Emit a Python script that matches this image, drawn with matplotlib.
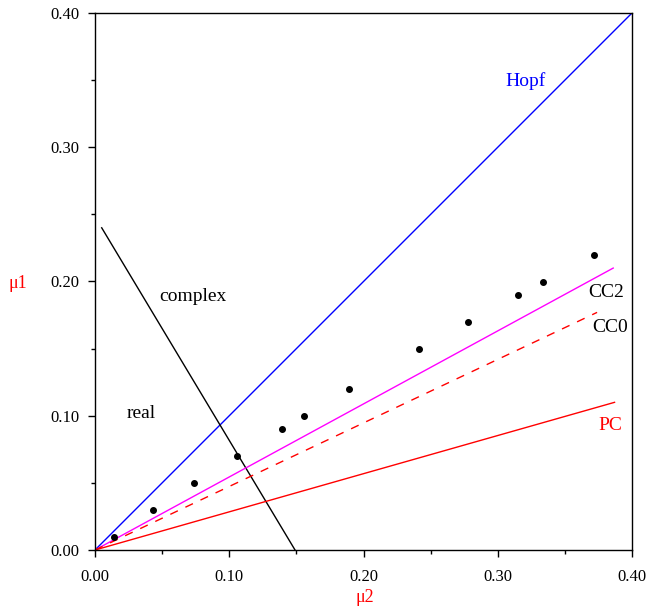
import matplotlib
matplotlib.use("Agg")
import matplotlib.pyplot as plt
from matplotlib.ticker import MultipleLocator, FormatStrFormatter

# Data
hopf_x = [0.0, 0.40]
hopf_y = [0.0, 0.40]
disc_x = [0.005, 0.149]
disc_y = [0.24, 0.0]
cc2_x = [0.0, 0.386]
cc2_y = [0.0, 0.21]
cc0_x = [0.0, 0.374]
cc0_y = [0.0, 0.177]
pc_x = [0.0, 0.387]
pc_y = [0.0, 0.11]
pts_x = [0.014, 0.043, 0.074, 0.106, 0.139, 0.156, 0.189, 0.241, 0.278, 0.315, 0.334, 0.372]
pts_y = [0.010, 0.030, 0.050, 0.070, 0.090, 0.100, 0.120, 0.150, 0.170, 0.190, 0.200, 0.220]

serif = ["Liberation Serif", "DejaVu Serif"]

fig = plt.figure(figsize=(6.48, 6.08), dpi=100)
ax = fig.add_axes([95/648, 58/608, 537/648, 537/608])

ax.plot(hopf_x, hopf_y, color="#0000ff", lw=1.0)
ax.plot(disc_x, disc_y, color="black", lw=1.0)
ax.plot(cc2_x, cc2_y, color="#ff00ff", lw=1.0)
ax.plot(cc0_x, cc0_y, color="#ff0000", lw=1.0, dashes=(6, 6))
ax.plot(pc_x, pc_y, color="#ff0000", lw=1.0)
ax.scatter(pts_x, pts_y, s=16, color="black", zorder=5)

ax.set_xlim(0, 0.40)
ax.set_ylim(0, 0.40)
ax.xaxis.set_major_locator(MultipleLocator(0.1))
ax.yaxis.set_major_locator(MultipleLocator(0.1))
ax.xaxis.set_minor_locator(MultipleLocator(0.05))
ax.yaxis.set_minor_locator(MultipleLocator(0.05))
ax.xaxis.set_major_formatter(FormatStrFormatter("%.2f"))
ax.yaxis.set_major_formatter(FormatStrFormatter("%.2f"))
ax.tick_params(which="major", direction="out", length=5, width=1, labelsize=12)
ax.tick_params(which="minor", direction="out", length=3, width=1)
ax.tick_params(axis="x", pad=8.5)
ax.tick_params(axis="y", pad=6)
for lab in ax.get_xticklabels() + ax.get_yticklabels():
    lab.set_family(serif)
for sp in ax.spines.values():
    sp.set_linewidth(1.0)

fig.text(365/648, 1 - 597/608, "μ2", color="red", fontsize=13, family=serif, ha="center", va="center")
fig.text(18/648, 1 - 283/608, "μ1", color="red", fontsize=13, family=serif, ha="center", va="center")

tkw = dict(fontsize=14, family=serif)
ax.text(0.321, 0.349, "Hopf", color="#0000ff", ha="center", va="center", **tkw)
ax.text(0.073, 0.189, "complex", color="black", ha="center", va="center", **tkw)
ax.text(0.0346, 0.102, "real", color="black", ha="center", va="center", **tkw)
ax.text(0.381, 0.192, "CC2", color="black", ha="center", va="center", **tkw)
ax.text(0.384, 0.166, "CC0", color="black", ha="center", va="center", **tkw)
ax.text(0.384, 0.093, "PC", color="#ff0000", ha="center", va="center", **tkw)

fig.savefig("out.png", dpi=100)
